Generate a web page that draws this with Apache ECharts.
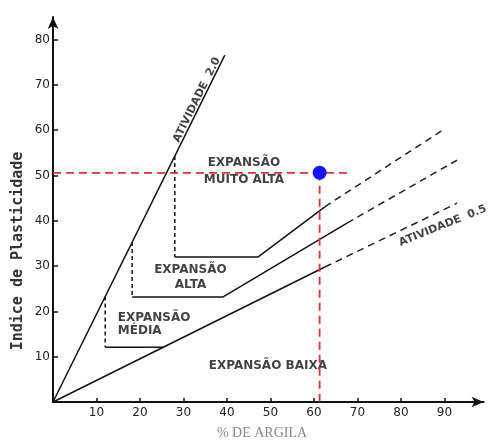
<!DOCTYPE html>
<html><head><meta charset="utf-8">
<script src="https://cdn.jsdelivr.net/npm/echarts@6/dist/echarts.min.js"></script>
<style>html,body{margin:0;padding:0;background:#fff}#c{width:490px;height:441px}</style>
</head><body><div id="c"></div>
<script>
const xTickValues = [10, 20, 30, 40, 50, 60, 70, 80, 90];
const yTickValues = [10, 20, 30, 40, 50, 60, 70, 80];

const activity2 = [[0, 0], [39.5, 76.6]];
const activity05Solid = [[0, 0], [62.5, 29.8]];
const activity05Dashed = [[62.5, 29.8], [92.9, 43.9]];

const muitoAltaStep = [[28, 54.3], [28, 32]];
const muitoAltaSolid = [[28, 32], [47.1, 32], [62.5, 43.1]];
const muitoAltaDashed = [[62.5, 43.1], [89.7, 60.1]];

const altaStep = [[18.2, 35.3], [18.2, 23.2]];
const altaSolid = [[18.2, 23.2], [39.1, 23.2], [67.6, 39.5]];
const altaDashed = [[67.6, 39.5], [92.9, 53.4]];

const mediaStep = [[12, 23.3], [12, 12.1]];
const mediaSolid = [[12, 12.1], [25.4, 12.1]];

const samplePoint = [61.3, 50.6];
const sampleHLine = [[0, 50.6], [67.6, 50.6]];
const sampleVLine = [[61.3, 50.6], [61.3, 0]];

// [x, y, text]
const regionLabels = [
  [43.9, 50.9, 'EXPANSÃO\nMUITO ALTA'],
  [31.6, 27.5, 'EXPANSÃO\nALTA'],
  [14.9, 17.2, 'EXPANSÃO\nMÉDIA'],
  [49.4, 8.0, 'EXPANSÃO BAIXA']
];
const activityLabels = [
  [33.1, 66.7, 'ATIVIDADE  2.0'],
  [89.6, 38.9, 'ATIVIDADE  0.5']
];

const solidStyle = { color: '#111', width: 1.5, type: 'solid' };
const stepStyle = { color: '#111', width: 1.5, type: [4, 3] };
const contStyle = { color: '#222', width: 1.5, type: [7, 5] };
const redStyle = { color: '#e0303c', width: 1.8, type: [8, 5] };

function line(data, style, z) {
  return { type: 'line', data: data, symbol: 'none', lineStyle: style, silent: true, z: z || 2, animation: false };
}

const regionLabelStyles = [
  { align: 'center', lineHeight: 17 },
  { align: 'center', lineHeight: 15 },
  { align: 'left', lineHeight: 13 },
  { align: 'center', lineHeight: 14 }
];
const activityRot = [63.6, 22];

const chart = echarts.init(document.getElementById('c'), null, { renderer: 'canvas' });
chart.setOption({
  animation: false,
  backgroundColor: '#ffffff',
  grid: { left: 53, top: 17, width: 430.6, height: 385 },
  xAxis: {
    type: 'value', min: 0, max: 99,
    splitLine: { show: false },
    axisLine: { show: true, onZero: false, lineStyle: { color: '#111', width: 2 }, symbol: ['none', 'arrow'], symbolSize: [8, 12] },
    axisTick: { show: true, inside: true, length: 4, lineStyle: { color: '#111', width: 1.5 }, customValues: xTickValues },
    axisLabel: { customValues: xTickValues, margin: 5, color: '#222', fontSize: 12, fontFamily: 'DejaVu Sans' }
  },
  yAxis: {
    type: 'value', min: 0, max: 85,
    splitLine: { show: false },
    axisLine: { show: true, onZero: false, lineStyle: { color: '#111', width: 2 }, symbol: ['none', 'arrow'], symbolSize: [8, 12] },
    axisTick: { show: true, inside: true, length: 5, lineStyle: { color: '#111', width: 1.5 }, customValues: yTickValues },
    axisLabel: { customValues: yTickValues, margin: 3, color: '#222', fontSize: 12, fontFamily: 'DejaVu Sans' }
  },
  graphic: [
    { type: 'text', x: 18, y: 251, rotation: Math.PI / 2, silent: true,
      style: { text: 'Indice de Plasticidade', align: 'center', verticalAlign: 'middle', fill: '#333', font: 'bold 15px "DejaVu Sans Mono"' } },
    { type: 'text', x: 262, y: 433, silent: true,
      style: { text: '% DE ARGILA', align: 'center', verticalAlign: 'middle', fill: '#888', font: '14px "Liberation Serif"' } }
  ],
  series: [
    line(activity2, solidStyle),
    line(activity05Solid, solidStyle),
    line(activity05Dashed, contStyle),
    line(muitoAltaStep, stepStyle),
    line(muitoAltaSolid, solidStyle),
    line(muitoAltaDashed, contStyle),
    line(altaStep, stepStyle),
    line(altaSolid, solidStyle),
    line(altaDashed, contStyle),
    line(mediaStep, stepStyle),
    line(mediaSolid, solidStyle),
    line(sampleHLine, redStyle, 5),
    line(sampleVLine, redStyle, 5),
    {
      type: 'scatter', data: [samplePoint], symbol: 'circle', symbolSize: 14,
      itemStyle: { color: '#1414ff', opacity: 1 }, z: 6, silent: true
    },
    {
      type: 'scatter', symbolSize: 0, silent: true, z: 4,
      data: regionLabels.map((r, i) => ({
        value: [r[0], r[1]], name: r[2],
        label: Object.assign({ show: true, position: 'inside', formatter: '{b}', color: '#111', fontSize: 12, fontWeight: 'bold', fontFamily: 'DejaVu Sans', verticalAlign: 'middle' }, regionLabelStyles[i])
      }))
    },
    {
      type: 'scatter', symbolSize: 0, silent: true, z: 4,
      data: activityLabels.map((r, i) => ({
        value: [r[0], r[1]], name: r[2],
        label: { show: true, position: 'inside', formatter: '{b}', color: '#111', fontSize: 11, fontWeight: 'bold', fontFamily: 'DejaVu Sans', rotate: activityRot[i], align: 'center', verticalAlign: 'middle' }
      }))
    }
  ]
});
</script>
</body></html>
